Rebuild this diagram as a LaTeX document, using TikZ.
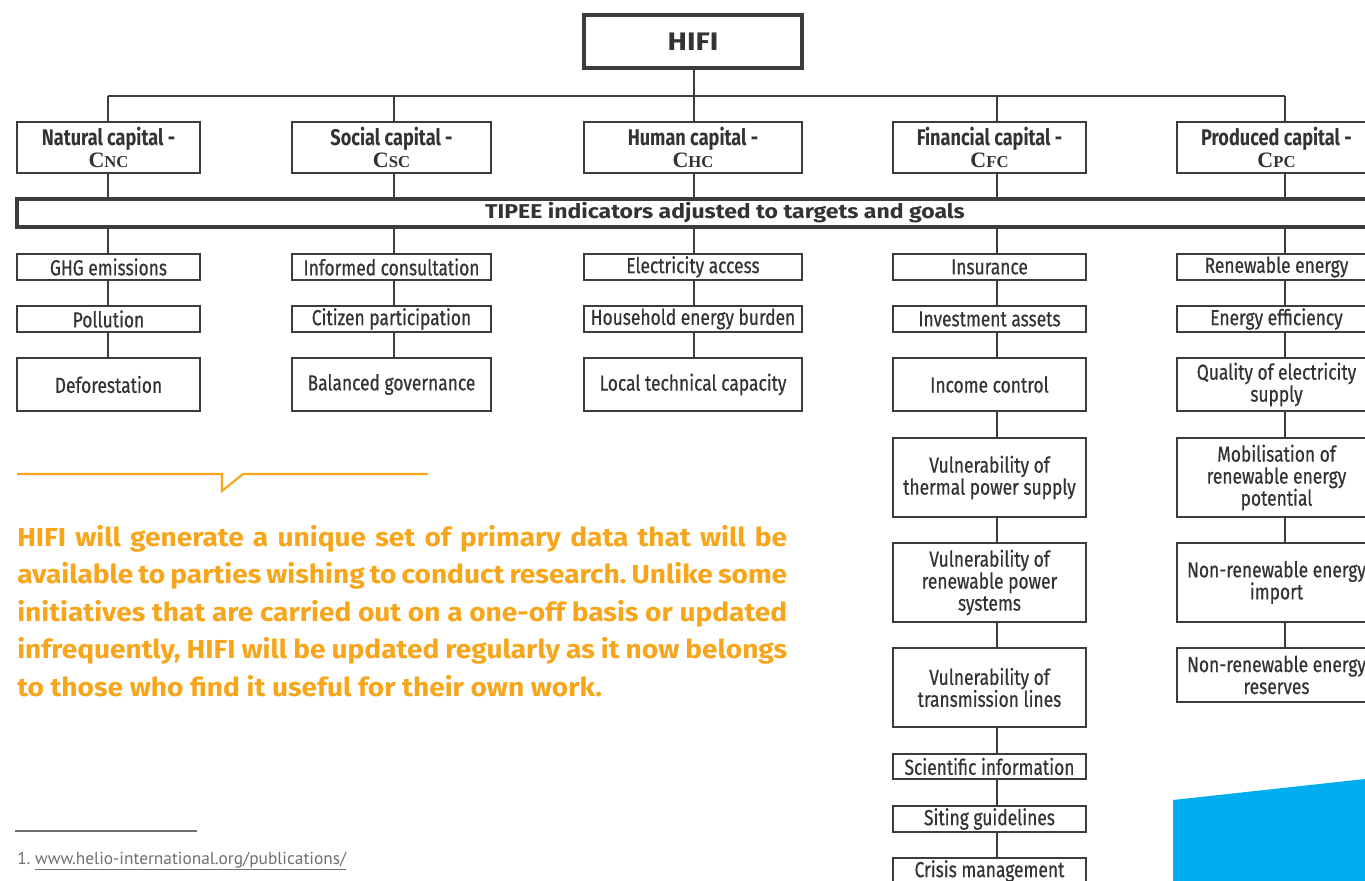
\documentclass[tikz,border=0pt]{standalone}
\usepackage{fontspec}
\setmainfont{Fira Sans}[FakeStretch=0.8, UprightFeatures={FakeBold=0.5}]
\newfontfamily\plainfont{PT Sans}
\newfontfamily\widefont{Fira Sans}[FakeStretch=1.15]
\newfontfamily\orangefont{Fira Sans}[FakeStretch=1.08]
\newfontfamily\serifC{Liberation Serif}
\definecolor{linec}{HTML}{3C3C3C}
\definecolor{textc}{HTML}{333333}
\definecolor{orangec}{RGB}{247,166,28}
\definecolor{bluec}{HTML}{00AEEF}
\definecolor{footc}{HTML}{707070}
\newcommand\boxfont{\fontsize{16.3}{16.5}\selectfont}
\newcommand\capsub[1]{{\serifC\bfseries\fontsize{16.5}{16}\selectfont C\fontsize{12.5}{12}\selectfont #1}}
\newcommand\bx[6][]{\node[box,#1,minimum width={(#4-#2)*0.75pt},minimum height={(#5-#3)*0.75pt}] (#6) at ({(#2+#4)/2},{(#3+#5)/2})}
\tikzset{
  box/.style={draw=linec, line width=1.2pt, fill=white, inner sep=0pt, align=center, text=textc, font=\boxfont},
  heavybox/.style={line width=2.3pt},
  conn/.style={draw=linec, line width=1.1pt},
  caphead/.style={font=\fontsize{17}{16.5}\selectfont\bfseries},
}
\frenchspacing
\begin{document}
\begin{tikzpicture}[x=0.75pt,y=-0.75pt]
\clip (0,0) rectangle (1365,881);
\fill[white] (0,0) rectangle (1365,881);
% blue shape
\fill[bluec] (1173,800) -- (1365,779) -- (1370,779) -- (1370,890) -- (1173,890) -- cycle;
% top
\bx[heavybox,font=\widefont\bfseries\fontsize{19}{19}\selectfont]{584}{15}{802}{68}{hifi} {HIFI};
\bx[caphead]{17}{122}{200}{173}{cN} {Natural capital -\\\capsub{NC}};
\bx[caphead]{292}{122}{491}{173}{cS} {Social capital -\\\capsub{SC}};
\bx[caphead]{584}{122}{802}{173}{cH} {Human capital -\\\capsub{HC}};
\bx[caphead]{893}{122}{1086}{173}{cF} {Financial capital -\\\capsub{FC}};
\bx[caphead]{1177}{122}{1376}{173}{cP} {Produced capital -\\\capsub{PC}};
\bx[heavybox,font=\widefont\bfseries\fontsize{15}{15}\selectfont]{17}{199}{1433}{227}{tipee} {TIPEE indicators adjusted to targets and goals};
% natural
\bx{17}{254}{200}{280}{N1} {GHG emissions};
\bx{17}{306}{200}{332}{N2} {Pollution};
\bx{17}{358}{200}{411}{N3} {Deforestation};
% social
\bx{292}{254}{491}{280}{S1} {Informed consultation};
\bx{292}{306}{491}{332}{S2} {Citizen participation};
\bx{292}{358}{491}{411}{S3} {Balanced governance};
% human
\bx{584}{254}{802}{280}{H1} {Electricity access};
\bx{584}{306}{802}{332}{H2} {Household energy burden};
\bx{584}{358}{802}{411}{H3} {Local technical capacity};
% financial
\bx{893}{254}{1086}{280}{F1} {Insurance};
\bx{893}{306}{1086}{332}{F2} {Investment assets};
\bx{893}{358}{1086}{411}{F3} {Income control};
\bx{893}{438}{1086}{517}{F4} {Vulnerability of\\thermal power supply};
\bx{893}{543}{1086}{622}{F5} {Vulnerability of\\renewable power\\systems};
\bx{893}{648}{1086}{727}{F6} {Vulnerability of\\transmission lines};
\bx{893}{754}{1086}{779}{F7} {Scientific information};
\bx{893}{806}{1086}{832}{F8} {Siting guidelines};
\bx{893}{858}{1086}{884}{F9} {Crisis management};
% produced
\bx{1177}{254}{1376}{280}{P1} {Renewable energy};
\bx{1177}{306}{1376}{332}{P2} {Energy efficiency};
\bx{1177}{358}{1376}{411}{P3} {Quality of electricity\\supply};
\bx{1177}{438}{1376}{517}{P4} {Mobilisation of\\renewable energy\\potential};
\bx{1177}{543}{1376}{622}{P5} {Non-renewable energy\\import};
\bx{1177}{648}{1376}{702}{P6} {Non-renewable energy\\reserves};
% connectors
\coordinate (xN) at (108,96);
\coordinate (xS) at (394,96);
\coordinate (xH) at (694,96);
\coordinate (xF) at (997,96);
\coordinate (xP) at (1285,96);
\draw[conn] (hifi.south -| xH) -- (xH);
\draw[conn] (xN) -- (xP);
\foreach \c/\n in {N/3,S/3,H/3,F/9,P/6}{
  \draw[conn] (x\c) -- (c\c.north -| x\c);
  \draw[conn] (c\c.south -| x\c) -- (tipee.north -| x\c);
  \draw[conn] (tipee.south -| x\c) -- (\c1.north -| x\c);
  \foreach \i in {2,...,\n}{
    \pgfmathtruncatemacro\prev{\i-1}
    \draw[conn] (\c\prev.south -| x\c) -- (\c\i.north -| x\c);
  }
}
% orange callout
\draw[orangec, line width=1.6pt] (17,474) -- (222,474) -- (222,491) -- (243,474) -- (428,474);
\node[anchor=base west, text width=577.5pt, align=justify, inner sep=0pt, text=orangec,
      font=\orangefont\bfseries\fontsize{19.5}{28.2}\selectfont] (quote) at (17,546)
 {HIFI will generate a unique set of primary data that will be\linebreak
  available to parties wishing to conduct research. Unlike some\linebreak
  initiatives that are carried out on a one-off basis or updated\linebreak
  infrequently, HIFI will be updated regularly as it now belongs\linebreak
  to those who find it useful for their own work.};
% footnote
\draw[footc, line width=0.8pt] (15,831) -- (197,831);
\node[anchor=base west, inner sep=0pt, text=footc, font=\plainfont\fontsize{13}{13}\selectfont] (fn1) at (17,864)
 {1. \underline{www.helio-international.org/publications/}};
\end{tikzpicture}
\end{document}
